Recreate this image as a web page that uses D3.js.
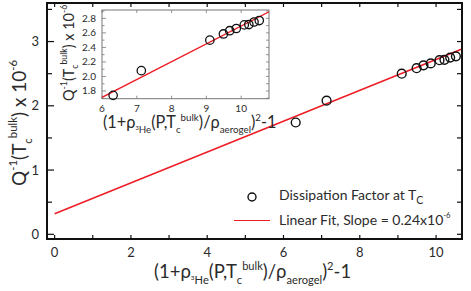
<!DOCTYPE html>
<html>
<head>
<meta charset="utf-8">
<script src="https://cdn.jsdelivr.net/npm/d3@7"></script>
<style>
  body { margin: 0; background: #fff; }
  svg { display: block; font-family: Lato, "Open Sans", sans-serif; }
</style>
</head>
<body>
<svg id="chart" width="471" height="291"></svg>
<script>
const xVals = [6.32, 7.13, 9.10, 9.49, 9.67, 9.86, 10.09, 10.22, 10.37, 10.52];
const yVals = [1.74, 2.08, 2.50, 2.585, 2.63, 2.66, 2.71, 2.715, 2.75, 2.77];
const fitMain = [0.32, 0.24];    // intercept, slope
const fitInset = [0.243, 0.245];
const mainXTicks = [0, 2, 4, 6, 8, 10];
const mainYTicks = [0, 1, 2, 3];
const insetXTicks = [6, 7, 8, 9, 10];
const insetYTicks = [1.8, 2.0, 2.2, 2.4, 2.6, 2.8];
const legendLabels = ["Dissipation Factor at T", "Linear Fit, Slope = 0.24x10"];

const svg = d3.select("#chart");
const ink = "#2b2b2b";
const red = "#ee1c25";

// helper: text made of pieces with size / vertical shift
function richText(g, parts, size) {
  const t = g.append("text").attr("fill", ink).style("font-size", size + "px");
  let cur = 0;
  parts.forEach(p => {
    const s = p.s || 1;
    const off = p.dy || 0;
    t.append("tspan")
      .attr("dy", (off - cur) * size)
      .style("font-size", (size * s) + "px")
      .text(p.t);
    cur = off;
  });
  return t;
}

const xLabelParts = [
  { t: "(1+ρ" },
  { t: "3", s: 0.35, dy: 0.12 },
  { t: "He", s: 0.6, dy: 0.3 },
  { t: "(P,T" },
  { t: "c", s: 0.6, dy: 0.3 },
  { t: "bulk", s: 0.6, dy: -0.45 },
  { t: ")/ρ" },
  { t: "aerogel", s: 0.6, dy: 0.3 },
  { t: ")" },
  { t: "2", s: 0.6, dy: -0.45 },
  { t: "-1" }
];
const yLabelParts = [
  { t: "Q" },
  { t: "-1", s: 0.6, dy: -0.45 },
  { t: "(T" },
  { t: "c", s: 0.6, dy: 0.3 },
  { t: "bulk", s: 0.6, dy: -0.45 },
  { t: ") x 10" },
  { t: "-6", s: 0.6, dy: -0.45 }
];

// ---------- main plot ----------
const m = { left: 47, top: 3, right: 462, bottom: 239 };
const x = d3.scaleLinear().domain([-0.2, 10.68]).range([m.left, m.right]);
const y = d3.scaleLinear().domain([-0.073, 3.6]).range([m.bottom, m.top]);

const main = svg.append("g");

// fit line from x=0 to right edge
const line = d3.line().x(d => x(d)).y(d => y(fitMain[0] + fitMain[1] * d));
main.append("path")
  .datum([0, x.domain()[1]])
  .attr("fill", "none")
  .attr("stroke", red)
  .attr("stroke-width", 1.5)
  .attr("d", line);

main.selectAll("circle.pt")
  .data(xVals.map((v, i) => [v, yVals[i]]))
  .join("circle")
  .attr("class", "pt")
  .attr("cx", d => x(d[0]))
  .attr("cy", d => y(d[1]))
  .attr("r", 4.4)
  .attr("fill", "none")
  .attr("stroke", "#111")
  .attr("stroke-width", 1.4);

// ticks (all inward, mirrored)
const xt = d3.range(0, 11, 1);
const yt = d3.range(0, 3.6, 0.5);
const tickStyle = sel => sel.attr("stroke", "#111").attr("stroke-width", 1.2);
main.selectAll("line.xb").data(xt).join("line")
  .attr("x1", d => x(d)).attr("x2", d => x(d))
  .attr("y1", m.bottom).attr("y2", m.bottom - 4).call(tickStyle);
main.selectAll("line.xt").data(xt).join("line")
  .attr("x1", d => x(d)).attr("x2", d => x(d))
  .attr("y1", m.top).attr("y2", m.top + 4).call(tickStyle);
main.selectAll("line.yl").data(yt).join("line")
  .attr("y1", d => y(d)).attr("y2", d => y(d))
  .attr("x1", m.left).attr("x2", d => m.left + (d % 1 === 0 ? 7 : 5)).call(tickStyle);
main.selectAll("line.yr").data(yt).join("line")
  .attr("y1", d => y(d)).attr("y2", d => y(d))
  .attr("x1", m.right).attr("x2", m.right - 5).call(tickStyle);

main.append("rect")
  .attr("x", m.left).attr("y", m.top)
  .attr("width", m.right - m.left).attr("height", m.bottom - m.top)
  .attr("fill", "none").attr("stroke", "#111").attr("stroke-width", 2);

main.selectAll("text.xl").data(mainXTicks).join("text")
  .attr("x", d => x(d)).attr("y", 257)
  .attr("text-anchor", "middle").attr("fill", ink)
  .style("font-size", "13px").text(d => d);
main.selectAll("text.yl").data(mainYTicks).join("text")
  .attr("x", 39).attr("y", d => y(d) + 4.5)
  .attr("text-anchor", "end").attr("fill", ink)
  .style("font-size", "13px").text(d => d);

richText(main.append("g").attr("transform", "translate(154,278)"), xLabelParts, 18.5);
richText(main.append("g").attr("transform", "translate(26,186) rotate(-90)"), yLabelParts, 19);

// legend
const lg = main.append("g");
lg.append("circle").attr("cx", 252).attr("cy", 197).attr("r", 4)
  .attr("fill", "none").attr("stroke", "#111").attr("stroke-width", 1.4);
lg.append("line").attr("x1", 234).attr("x2", 270).attr("y1", 220.5).attr("y2", 220.5)
  .attr("stroke", red).attr("stroke-width", 1.2);
richText(lg.append("g").attr("transform", "translate(279,200)"),
  [{ t: legendLabels[0] }, { t: "C", s: 0.75, dy: 0.3 }], 14);
richText(lg.append("g").attr("transform", "translate(279,225)"),
  [{ t: legendLabels[1] }, { t: "-6", s: 0.55, dy: -0.5 }], 14);

// ---------- inset ----------
const ins = { left: 102, top: 10, right: 269, bottom: 98.7 };
const xi = d3.scaleLinear().domain([6, 10.8]).range([ins.left, ins.right]);
const yi = d3.scaleLinear().domain([1.694, 2.915]).range([ins.bottom, ins.top]);
const inset = svg.append("g");

inset.append("rect")
  .attr("x", ins.left).attr("y", ins.top)
  .attr("width", ins.right - ins.left).attr("height", ins.bottom - ins.top)
  .attr("fill", "#fff").attr("stroke", "#777").attr("stroke-width", 1);

inset.append("clipPath").attr("id", "clip-inset")
  .append("rect")
  .attr("x", ins.left).attr("y", ins.top)
  .attr("width", ins.right - ins.left).attr("height", ins.bottom - ins.top);

const yti = d3.range(1.7, 2.95, 0.1);
inset.selectAll("line.il").data(yti).join("line")
  .attr("y1", d => yi(d)).attr("y2", d => yi(d))
  .attr("x1", ins.left).attr("x2", (d, i) => ins.left + (i % 2 === 1 ? 4 : 2.5))
  .attr("stroke", "#777").attr("stroke-width", 0.8);
inset.selectAll("line.ir").data(yti).join("line")
  .attr("y1", d => yi(d)).attr("y2", d => yi(d))
  .attr("x1", ins.right).attr("x2", ins.right - 3)
  .attr("stroke", "#777").attr("stroke-width", 0.8);
inset.selectAll("line.ib").data(insetXTicks).join("line")
  .attr("x1", d => xi(d)).attr("x2", d => xi(d))
  .attr("y1", ins.bottom).attr("y2", ins.bottom - 3)
  .attr("stroke", "#777").attr("stroke-width", 0.8);
inset.selectAll("line.it").data(insetXTicks).join("line")
  .attr("x1", d => xi(d)).attr("x2", d => xi(d))
  .attr("y1", ins.top).attr("y2", ins.top + 3)
  .attr("stroke", "#777").attr("stroke-width", 0.8);

const lineI = d3.line().x(d => xi(d)).y(d => yi(fitInset[0] + fitInset[1] * d));
inset.append("path")
  .datum(xi.domain())
  .attr("clip-path", "url(#clip-inset)")
  .attr("fill", "none")
  .attr("stroke", red)
  .attr("stroke-width", 1.3)
  .attr("d", lineI);

inset.selectAll("circle.ip")
  .data(xVals.map((v, i) => [v, yVals[i]]))
  .join("circle")
  .attr("class", "ip")
  .attr("cx", d => xi(d[0]))
  .attr("cy", d => yi(d[1]))
  .attr("r", 4.2)
  .attr("fill", "none")
  .attr("stroke", "#111")
  .attr("stroke-width", 1.3);

inset.selectAll("text.ixl").data(insetXTicks).join("text")
  .attr("x", d => xi(d)).attr("y", 112)
  .attr("text-anchor", "middle").attr("fill", ink)
  .style("font-size", "10px").text(d => d);
inset.selectAll("text.iyl").data(insetYTicks).join("text")
  .attr("x", 96).attr("y", d => yi(d) + 3.5)
  .attr("text-anchor", "end").attr("fill", ink)
  .style("font-size", "10px").text(d => d3.format(".1f")(d));

richText(inset.append("g").attr("transform", "translate(103,128)"), xLabelParts, 16.3);
richText(inset.append("g").attr("transform", "translate(74,101) rotate(-90)"), yLabelParts, 14.5);
</script>
</body>
</html>
